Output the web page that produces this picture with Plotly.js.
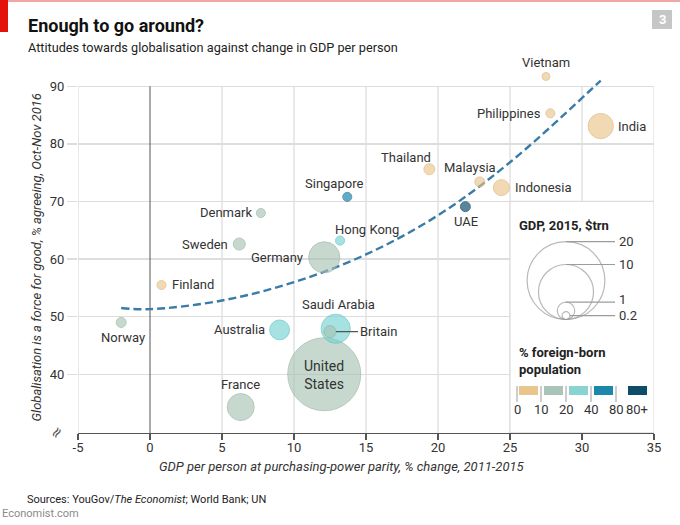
<!DOCTYPE html>
<html><head><meta charset="utf-8">
<script src="https://cdn.plot.ly/plotly-3.0.1.min.js"></script>
<style>html,body{margin:0;padding:0;background:#fff}#chart{width:680px;height:525px}</style>
</head><body><div id="chart"></div>
<script>
// ---------- data ----------
const countries = ['United States','Germany','Saudi Arabia','France','India','Australia','Indonesia','Sweden','Britain','Thailand','Malaysia','UAE','Norway','Philippines','Singapore','Hong Kong','Denmark','Finland','Vietnam'];
const gdpGrowth = [12.1, 12.1, 12.9, 6.3, 31.3, 9.0, 24.4, 6.2, 12.5, 19.4, 22.9, 21.9, -2.0, 27.8, 13.7, 13.2, 7.7, 0.8, 27.5];
const globalisationPct = [40.0, 60.3, 47.9, 34.3, 83.1, 47.7, 72.4, 62.6, 47.4, 75.6, 73.4, 69.1, 49.0, 85.3, 70.8, 63.2, 68.0, 55.5, 91.7];
const gdpTrn = [17.6, 3.2, 2.8, 2.4, 2.1, 1.3, 0.85, 0.48, 0.48, 0.40, 0.33, 0.33, 0.33, 0.27, 0.27, 0.27, 0.27, 0.27, 0.21];
const foreignBand = ['10-20','10-20','20-40','10-20','0-10','20-40','0-10','10-20','10-20','0-10','0-10','80+','10-20','0-10','40-80','20-40','10-20','0-10','0-10'];
const trendX = [-2, 0, 5, 10, 15, 20, 25, 31.3];
const trendY = [51.5, 51.3, 52.8, 56.0, 60.8, 67.6, 76.8, 91.0];
const xTicks = [-5, 0, 5, 10, 15, 20, 25, 30, 35];
const xTickLabels = ['-5', '0', '5', '10', '15', '20', '25', '30', '35'];
const yTicks = [40, 50, 60, 70, 80, 90];
const sizeLegendValues = [20, 10, 1, 0.2];
const sizeLegendLabels = ['20', '10', '1', '0.2'];
const bands = ['0-10', '10-20', '20-40', '40-80', '80+'];
const bandTickLabels = ['0', '10', '20', '40', '80', '80+'];

// ---------- styling / layout config ----------
const W = 680, H = 525, M = {l: 78, r: 26, t: 69, b: 92};
const xRange = [-5, 35], yRange = [29.8, 93];
const FONT = 'Roboto, "Open Sans", sans-serif';
const bandFill = {'0-10':'rgba(234,196,136,0.9)','10-20':'rgba(164,194,178,0.87)','20-40':'rgba(118,209,209,0.9)','40-80':'rgba(20,130,172,0.95)','80+':'rgba(10,76,104,0.97)'};
const bandLine = {'0-10':'#dcb57a','10-20':'#95b2a3','20-40':'#5cc0c0','40-80':'#156f94','80+':'#0a3f58'};
const bandSwatch = {'0-10':'#ebc68c','10-20':'#a9c4b8','20-40':'#88d4d2','40-80':'#1b87ab','80+':'#0d4d68'};
const SIZEREF = 2 / (17.4 * 17.4);
const diam = v => Math.sqrt(2 * v / SIZEREF);
const pw = W - M.l - M.r, ph = H - M.t - M.b;
const pxX = px => (px - M.l) / pw;
const pxY = py => (H - M.b - py) / ph;
const GRID = '#dddddd', DARK = '#555555', TXT = '#333333';

// label placement (pixel offsets from bubble centre)
const labelPlace = {
  'United States': {dx: 0, dy: 1, xa: 'center', text: 'United<br>States', size: 14},
  'Germany': {dx: -19, dy: 0, xa: 'right'},
  'Saudi Arabia': {dx: 3, dy: -24, xa: 'center'},
  'France': {dx: 0, dy: -23, xa: 'center'},
  'India': {dx: 15, dy: 0, xa: 'left'},
  'Australia': {dx: -13, dy: 0, xa: 'right'},
  'Indonesia': {dx: 12, dy: 0, xa: 'left'},
  'Sweden': {dx: -9, dy: 0, xa: 'right'},
  'Britain': {arrow: true},
  'Thailand': {dx: -23, dy: -12, xa: 'center'},
  'Malaysia': {dx: -10, dy: -14, xa: 'center'},
  'UAE': {dx: 1, dy: 15, xa: 'center'},
  'Norway': {dx: 2, dy: 15, xa: 'center'},
  'Philippines': {dx: -7, dy: 0, xa: 'right'},
  'Singapore': {dx: -13, dy: -13, xa: 'center'},
  'Hong Kong': {dx: 27, dy: -11, xa: 'center'},
  'Denmark': {dx: -7, dy: 0, xa: 'right'},
  'Finland': {dx: 8, dy: 0, xa: 'left'},
  'Vietnam': {dx: 0, dy: -14, xa: 'center'}
};

// ---------- traces ----------
const bubbles = {
  type: 'scatter', mode: 'markers', x: gdpGrowth, y: globalisationPct, text: countries,
  cliponaxis: false, hoverinfo: 'text',
  marker: {size: gdpTrn, sizemode: 'area', sizeref: SIZEREF,
    color: foreignBand.map(b => bandFill[b]),
    line: {color: foreignBand.map(b => bandLine[b]), width: 1}}
};
const trend = {
  type: 'scatter', mode: 'lines', x: trendX, y: trendY, cliponaxis: false, hoverinfo: 'skip',
  line: {color: '#3a7ca8', width: 2.4, dash: '8px,4px', shape: 'spline', smoothing: 1}
};
const legendCx = 566, legendBottom = 319.5, leaderEnd = 615;
const sizeLegend = {
  type: 'scatter', mode: 'markers', xaxis: 'x2', yaxis: 'y2', hoverinfo: 'skip',
  x: sizeLegendValues.map(() => legendCx),
  y: sizeLegendValues.map(v => legendBottom - diam(v) / 2),
  marker: {size: sizeLegendValues, sizemode: 'area', sizeref: SIZEREF,
    color: 'rgba(255,255,255,0)', line: {color: '#9c9c9c', width: 1.2}}
};

// ---------- shapes ----------
const shapes = [];
xTicks.forEach(v => {
  if (v === 0) return;
  shapes.push({type: 'line', xref: 'x', yref: 'y', x0: v, x1: v, y0: yRange[0], y1: Math.max(...yTicks),
    line: {color: GRID, width: 1.3}, layer: 'below'});
});
shapes.push({type: 'line', xref: 'x', yref: 'y', x0: 0, x1: 0, y0: yRange[0], y1: Math.max(...yTicks),
  line: {color: DARK, width: 1}, layer: 'between'});
// legend panel
shapes.push({type: 'rect', xref: 'x', yref: 'y', x0: 25, x1: 35, y0: yRange[0], y1: 70,
  fillcolor: '#ffffff', line: {color: GRID, width: 1.3}, layer: 'between'});
// size-legend leaders
const leaderY = [];
sizeLegendValues.forEach((v, i) => {
  const d = diam(v);
  const small = i === sizeLegendValues.length - 1;
  const yy = small ? legendBottom - d / 2 : legendBottom - d;
  leaderY.push(yy);
  const x0 = small ? legendCx + d / 2 : legendCx;
  shapes.push({type: 'line', xref: 'x2', yref: 'y2', x0: x0, x1: leaderEnd, y0: yy, y1: yy,
    line: {color: '#9c9c9c', width: 1.2}});
});
// colour swatches
const swX = [519, 544, 569, 594, 628], swW = 19, tickX = [517, 541, 566, 591, 616], tickLblX = [517, 541, 566, 591, 616, 637];
bands.forEach((b, i) => {
  shapes.push({type: 'rect', xref: 'x2', yref: 'y2', x0: swX[i], x1: swX[i] + swW, y0: 386, y1: 395,
    fillcolor: bandSwatch[b], line: {width: 0}});
  shapes.push({type: 'line', xref: 'x2', yref: 'y2', x0: tickX[i], x1: tickX[i], y0: 386, y1: 402,
    line: {color: '#9c9c9c', width: 1}});
});
// header decorations
shapes.push({type: 'line', xref: 'paper', yref: 'paper', x0: pxX(0), x1: pxX(W), y0: pxY(1), y1: pxY(1),
  line: {color: '#e8514a', width: 1.2}});
shapes.push({type: 'rect', xref: 'paper', yref: 'paper', x0: pxX(0), x1: pxX(8), y0: pxY(0), y1: pxY(32),
  fillcolor: '#e3120b', line: {width: 0}});
shapes.push({type: 'rect', xref: 'paper', yref: 'paper', x0: pxX(652), x1: pxX(672), y0: pxY(10), y1: pxY(29),
  fillcolor: '#c6c6c6', line: {width: 0}});

// ---------- annotations ----------
const ann = [];
countries.forEach((c, i) => {
  const p = labelPlace[c];
  const base = {text: p.text || c, font: {family: FONT, size: p.size || 13, color: TXT}, xref: 'x', x: gdpGrowth[i]};
  base.yref = 'y';
  base.y = globalisationPct[i];
  if (p.arrow) {
    Object.assign(base, {showarrow: true, ax: 28, ay: 0, arrowhead: 0, arrowwidth: 1.1, arrowcolor: DARK,
      standoff: diam(gdpTrn[i]) / 2, xanchor: 'left', yanchor: 'middle'});
  } else {
    Object.assign(base, {showarrow: false, xshift: p.dx, yshift: -p.dy, xanchor: p.xa, yanchor: 'middle'});
  }
  ann.push(base);
});
// titles & notes
ann.push({xref: 'paper', yref: 'paper', x: pxX(26), y: pxY(26), xanchor: 'left', yanchor: 'middle', showarrow: false,
  text: '<b>Enough to go around?</b>', font: {family: FONT, size: 18, color: '#111'}});
ann.push({xref: 'paper', yref: 'paper', x: pxX(26), y: pxY(47.5), xanchor: 'left', yanchor: 'middle', showarrow: false,
  text: 'Attitudes towards globalisation against change in GDP per person', font: {family: FONT, size: 12.7, color: '#222'}});
ann.push({xref: 'paper', yref: 'paper', x: pxX(662), y: pxY(19.5), xanchor: 'center', yanchor: 'middle', showarrow: false,
  text: '<b>3</b>', font: {family: FONT, size: 13, color: '#ffffff'}});
ann.push({xref: 'paper', yref: 'paper', x: pxX(36), y: pxY(257.5), xanchor: 'center', yanchor: 'middle', showarrow: false, textangle: -90,
  text: '<i>Globalisation is a force for good, % agreeing, Oct-Nov 2016</i>', font: {family: FONT, size: 13, color: TXT}});
ann.push({xref: 'paper', yref: 'paper', x: pxX(342), y: pxY(466.5), xanchor: 'center', yanchor: 'middle', showarrow: false,
  text: '<i>GDP per person at purchasing-power parity, % change, 2011-2015</i>', font: {family: FONT, size: 13, color: TXT}});
ann.push({xref: 'paper', yref: 'paper', x: pxX(25), y: pxY(499), xanchor: 'left', yanchor: 'middle', showarrow: false,
  text: 'Sources: YouGov/<i>The Economist</i>; World Bank; UN', font: {family: FONT, size: 11, color: '#222'}});
ann.push({xref: 'paper', yref: 'paper', x: pxX(0), y: pxY(513.5), xanchor: 'left', yanchor: 'middle', showarrow: false,
  text: 'Economist.com', font: {family: FONT, size: 11, color: '#8a8a8a'}});
ann.push({xref: 'paper', yref: 'paper', x: pxX(56), y: pxY(432.5), xanchor: 'center', yanchor: 'middle', showarrow: false, textangle: -55,
  text: '≈', font: {family: '"DejaVu Sans", sans-serif', size: 15, color: DARK}});
// legend texts
ann.push({xref: 'x2', yref: 'y2', x: 517, y: 225, xanchor: 'left', yanchor: 'middle', showarrow: false,
  text: '<b>GDP, 2015, $trn</b>', font: {family: FONT, size: 13, color: '#222'}});
const labelNudge = [0, 0, -3, 0];
sizeLegendValues.forEach((v, i) => {
  ann.push({xref: 'x2', yref: 'y2', x: leaderEnd + 2, y: leaderY[i] + labelNudge[i], xanchor: 'left', yanchor: 'middle', showarrow: false,
    text: sizeLegendLabels[i], font: {family: FONT, size: 13, color: TXT}});
});
ann.push({xref: 'x2', yref: 'y2', x: 517, y: 361, xanchor: 'left', yanchor: 'middle', showarrow: false, align: 'left',
  text: '<b>% foreign-born<br>population</b>', font: {family: FONT, size: 13, color: '#222'}});
bandTickLabels.forEach((t, i) => {
  ann.push({xref: 'x2', yref: 'y2', x: tickLblX[i], y: 409, xanchor: 'center', yanchor: 'middle', showarrow: false,
    text: t, font: {family: FONT, size: 13, color: TXT}});
});

const layout = {
  width: W, height: H, margin: M, paper_bgcolor: '#fff', plot_bgcolor: '#fff', showlegend: false,
  font: {family: FONT, size: 13, color: TXT},
  xaxis: {range: xRange, tickvals: xTicks, ticktext: xTickLabels, showgrid: false, zeroline: false, showline: true, linecolor: DARK, linewidth: 1.3,
    ticks: 'outside', ticklen: 6, tickcolor: DARK, tickwidth: 1.2, ticklabelstandoff: -4, tickfont: {size: 13, color: TXT}, fixedrange: true},
  yaxis: {range: yRange, tickvals: yTicks, showgrid: true, gridcolor: GRID, gridwidth: 1.3, zeroline: false, showline: false,
    ticks: 'outside', ticklen: 10, tickcolor: GRID, tickwidth: 1.3, tickfont: {size: 13, color: TXT}, fixedrange: true},
  xaxis2: {overlaying: 'x', range: [M.l, W - M.r], visible: false, fixedrange: true},
  yaxis2: {overlaying: 'y', range: [H - M.b, M.t], visible: false, fixedrange: true},
  shapes: shapes, annotations: ann
};
Plotly.newPlot('chart', [trend, bubbles, sizeLegend], layout, {staticPlot: true, displayModeBar: false});
</script></body></html>
